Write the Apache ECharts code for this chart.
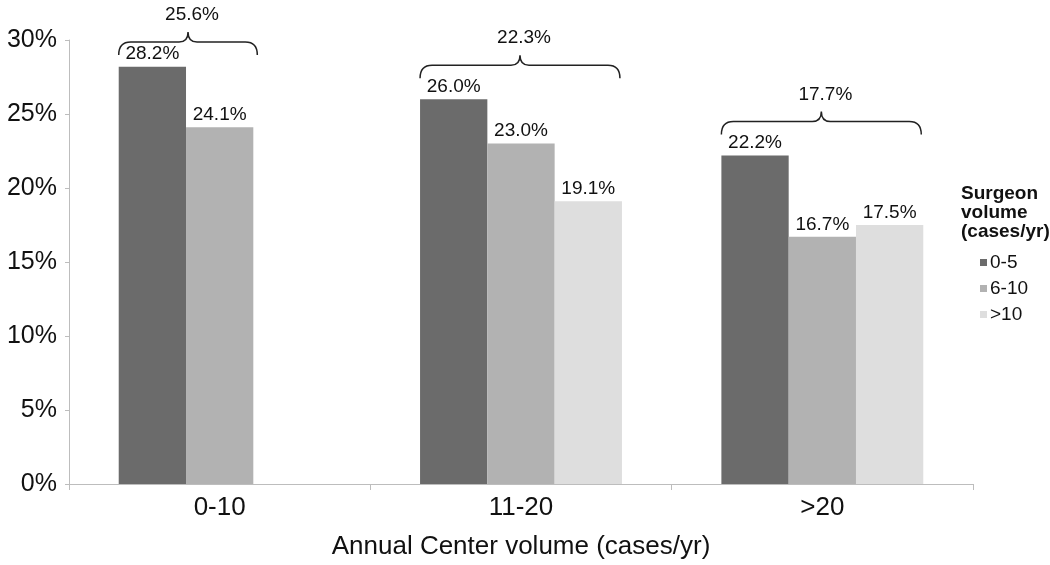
<!DOCTYPE html>
<html>
<head>
<meta charset="utf-8">
<script src="https://cdn.jsdelivr.net/npm/echarts@6/dist/echarts.min.js"></script>
<style>html,body{margin:0;padding:0;background:#fff}#c{width:1050px;height:565px}</style>
</head>
<body>
<div id="c"></div>
<script>
var categories = ['0-10', '11-20', '>20'];
var seriesNames = ['0-5', '6-10', '>10'];
var vol0to5 = [28.2, 26.0, 22.2];
var vol6to10 = [24.1, 23.0, 16.7];
var volOver10 = [null, 19.1, 17.5];
var groupTotals = [25.6, 22.3, 17.7];
var yTicks = [0, 5, 10, 15, 20, 25, 30];

var FONT = 'Liberation Sans, Arial, sans-serif';
var colors = ['#6b6b6b', '#b2b2b2', '#dedede'];
var allSeries = [vol0to5, vol6to10, volOver10];
var GAP = 0.33;

var chart = echarts.init(document.getElementById('c'));

function barSeries(i) {
  return {
    name: seriesNames[i],
    type: 'bar',
    data: allSeries[i],
    barGap: '0%',
    barCategoryGap: (GAP * 100) + '%',
    itemStyle: { color: colors[i] },
    label: {
      show: true, position: 'top', distance: 3,
      formatter: function (p) { return p.value.toFixed(1) + '%'; },
      fontFamily: FONT, fontSize: 19, color: '#111'
    }
  };
}

var braceData = groupTotals.map(function (t, i) { return [i, t]; });

var option = {
  backgroundColor: '#fff',
  animation: false,
  title: {
    text: 'Surgeon\nvolume\n(cases/yr)',
    left: 956, top: 179,
    textStyle: { fontFamily: FONT, fontSize: 19, fontWeight: 'bold', color: '#111', lineHeight: 19 }
  },
  legend: {
    data: seriesNames,
    orient: 'vertical',
    left: 975, top: 248,
    itemWidth: 7, itemHeight: 7, itemGap: 7,
    icon: 'rect',
    textStyle: { fontFamily: FONT, fontSize: 19, color: '#111', padding: [0, 0, 0, -2] }
  },
  grid: { left: 69, right: 77, top: 40, bottom: 80 },
  xAxis: {
    type: 'category',
    data: categories,
    axisLine: { lineStyle: { color: '#bdbdbd', width: 1 } },
    axisTick: { show: true, length: 6, lineStyle: { color: '#bdbdbd' } },
    axisLabel: { fontFamily: FONT, fontSize: 26, color: '#111', margin: 11 },
    name: 'Annual Center volume (cases/yr)',
    nameLocation: 'middle',
    nameGap: 50,
    nameTextStyle: { fontFamily: FONT, fontSize: 26, color: '#111' }
  },
  yAxis: {
    type: 'value',
    min: yTicks[0], max: yTicks[yTicks.length - 1], interval: 5,
    axisLine: { show: true, lineStyle: { color: '#bdbdbd', width: 1 } },
    axisTick: { show: true, length: 4, lineStyle: { color: '#bdbdbd' } },
    splitLine: { show: false },
    axisLabel: { fontFamily: FONT, fontSize: 25, color: '#111', margin: 12, formatter: '{value}%' }
  },
  series: [
    barSeries(0), barSeries(1), barSeries(2),
    {
      type: 'custom',
      name: 'brace',
      coordinateSystem: 'cartesian2d',
      data: braceData,
      encode: { x: 0, y: 1 },
      z: 10,
      renderItem: function (params, api) {
        var idx = api.value(0);
        var total = api.value(1);
        var band = api.size([1, 0])[0];
        var cx = api.coord([idx, 0])[0];
        var barW = band * (1 - GAP) / 3;
        var x0 = cx - band * (1 - GAP) / 2;
        var n = 0, maxV = 0;
        for (var s = 0; s < allSeries.length; s++) {
          var v = allSeries[s][idx];
          if (v != null) { n = s + 1; if (v > maxV) maxV = v; }
        }
        var x1 = x0 + n * barW + (n < 3 ? 4 : -2);
        var topY = api.coord([idx, maxV])[1];
        var gridTop = api.coord([idx, yTicks[yTicks.length - 1]])[1];
        var yL = Math.max(topY - 34, gridTop + 2);
        var yB = yL + 13;
        var tx = (x0 + x1) / 2;
        var d = 'M' + x0 + ',' + yB +
          ' Q' + x0 + ',' + yL + ' ' + (x0 + 12) + ',' + yL +
          ' L' + (tx - 9) + ',' + yL +
          ' Q' + tx + ',' + yL + ' ' + tx + ',' + (yL - 10) +
          ' Q' + tx + ',' + yL + ' ' + (tx + 9) + ',' + yL +
          ' L' + (x1 - 12) + ',' + yL +
          ' Q' + x1 + ',' + yL + ' ' + x1 + ',' + yB;
        return {
          type: 'group',
          children: [
            { type: 'path', shape: { pathData: d }, style: { fill: null, stroke: '#222', lineWidth: 1.5 } },
            { type: 'text', style: { text: total.toFixed(1) + '%', x: tx + 4, y: yL - 27, textAlign: 'center', textVerticalAlign: 'middle', fontFamily: FONT, fontSize: 19, fill: '#111' } }
          ]
        };
      }
    }
  ]
};
chart.setOption(option);
</script>
</body>
</html>
